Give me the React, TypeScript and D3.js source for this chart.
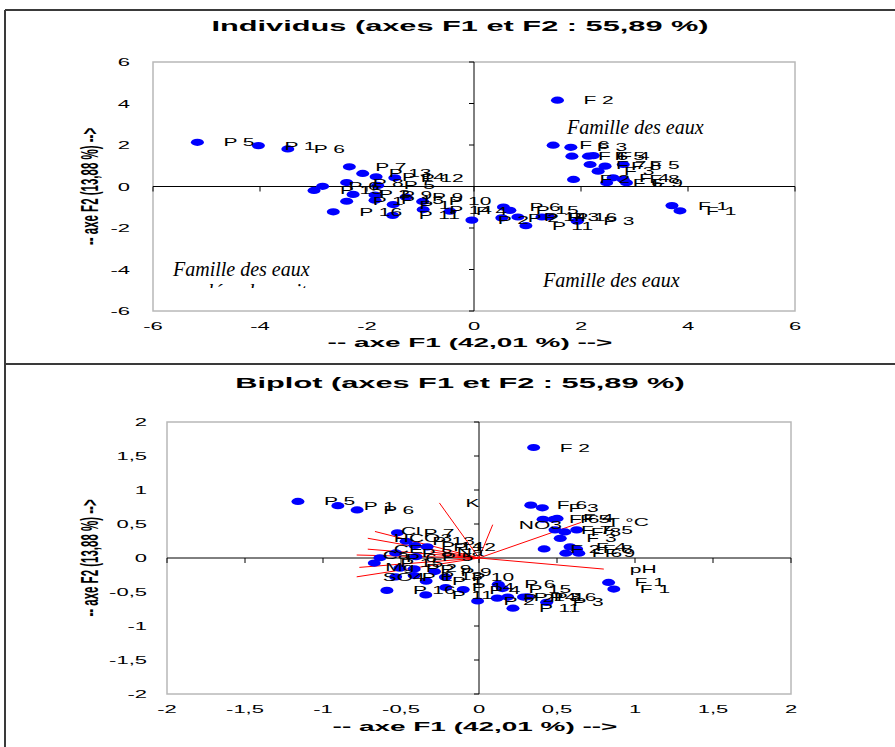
import React from 'react';
import * as d3 from 'd3';

// ---------- DATA ----------
const obsLabels = [
  'P 5', 'P 1', 'P 6', 'P 7', 'P 13', 'P 14', 'P 12', 'P 8', 'P 5', 'P 6', 'P 15', 'P 2',
  'P 9', 'P 1', 'P 13', 'P 9', 'P 1', 'P 10', 'P 16', 'P 11', 'P 14', 'P 4', 'P 2',
  'F 2',
  'F 6', 'F 3', 'F 6', 'F 5', 'F 4', 'F 7', 'F 8', 'F 5', 'F 3', 'F 2', 'F 4', 'F 8', 'F 6', 'F 9',
  'F 1', 'F 1',
  'P 6', 'P 15', 'P 2', 'P 14', 'P 11', 'P 3', 'P 16', 'P 3',
];
const obsF1 = [
  -5.17, -4.03, -3.48, -2.33, -2.08, -1.83, -1.48, -2.38, -1.8, -2.83, -2.99, -2.26,
  -1.85, -2.38, -1.85, -1.27, -1.51, -0.96, -2.63, -1.52, -0.95, -0.45, -0.04,
  1.56,
  1.48, 1.81, 1.83, 2.14, 2.23, 2.17, 2.45, 2.79, 2.32, 1.86, 2.6, 2.79, 2.48, 2.85,
  3.7, 3.85,
  0.55, 0.67, 0.52, 0.82, 0.97, 1.27, 1.39, 1.93,
];
const obsF2 = [
  2.13, 1.97, 1.81, 0.95, 0.63, 0.47, 0.42, 0.19, 0.05, 0.01, -0.19, -0.38,
  -0.41, -0.71, -0.66, -0.51, -0.87, -0.72, -1.22, -1.39, -1.11, -1.19, -1.62,
  4.16,
  1.99, 1.89, 1.46, 1.46, 1.49, 1.06, 0.98, 1.06, 0.74, 0.34, 0.42, 0.34, 0.18, 0.18,
  -0.92, -1.17,
  -0.99, -1.15, -1.51, -1.47, -1.89, -1.47, -1.46, -1.67,
];
const varLabels = ['K', 'NO3', 'T °C', 'pH', 'Cl', 'HCO3', 'CE', 'Ca', 'Mg', 'SO4', 'Na'];
const varF1 = [-0.254, 0.088, 0.654, 0.8, -0.667, -0.713, -0.713, -0.784, -0.767, -0.784, -0.31];
const varF2 = [0.81, 0.49, 0.523, -0.163, 0.39, 0.29, 0.13, 0.044, -0.138, -0.277, 0.09];

const inertiaPct = [42.01, 13.88];
const topTicks = [-6, -4, -2, 0, 2, 4, 6];
const bipTicks = [-2, -1.5, -1, -0.5, 0, 0.5, 1, 1.5, 2];
const titleTop = 'Individus (axes F1 et F2 : 55,89 %)';
const titleBottom = 'Biplot (axes F1 et F2 : 55,89 %)';
const xTitle = '-- axe F1 (42,01 %) -->';
const yTitle = '-- axe F2 (13,88 %) -->';
const familleText = 'Famille des eaux';
const familleSecond = 'salées des puits';

// biplot scaling of observations (per-axis, from eigenvalues)
const BIPLOT_C = 0.1455;
const coef = inertiaPct.map((p) => BIPLOT_C / Math.sqrt(p / 100));

const SANS = 'Liberation Sans, Arial, sans-serif';
const SERIF = 'Liberation Serif, Times New Roman, serif';
const SX = 2; // horizontal stretch of the original chart texts

function SText(props: any) {
  const { x, y, s = SX, anchor = 'start', size = 10.5, weight = 'normal', rotate = 0, children, fill = '#000' } = props;
  const tr = `translate(${x},${y}) scale(${s},1)` + (rotate ? ` rotate(${rotate})` : '');
  return (
    <text transform={tr} textAnchor={anchor} fontSize={size} fontWeight={weight} fontFamily={SANS} fill={fill}>
      {children}
    </text>
  );
}

const fmt = (d: number) => String(d).replace('.', ',');

function Panel(props: any) {
  const { x, y, ticks, f1, f2, tickLabelX, tickLabelY, xTitleY, tickFmt } = props;
  const [x0, x1] = x.range();
  const [y0, y1] = y.range(); // y0 bottom, y1 top
  const cx = x(0);
  const cy = y(0);
  return (
    <g>
      <rect x={x0} y={y1} width={x1 - x0} height={y0 - y1} fill="none" stroke="#b8b8b8" strokeWidth={1.5} />
      <line x1={x0} x2={x1} y1={cy} y2={cy} stroke="#000" strokeWidth={1} />
      <line x1={cx} x2={cx} y1={y1} y2={y0} stroke="#000" strokeWidth={1} />
      {ticks.map((t: number) => (
        <g key={'t' + t}>
          <line x1={x(t)} x2={x(t)} y1={cy} y2={cy + 5} stroke="#000" />
          <line x1={cx - 5} x2={cx} y1={y(t)} y2={y(t)} stroke="#000" />
          <SText x={x(t)} y={tickLabelY} anchor="middle" size={11}>{tickFmt(t)}</SText>
          <SText x={tickLabelX} y={y(t) + 4} anchor="end" size={11}>{tickFmt(t)}</SText>
        </g>
      ))}
      <SText x={cx - 4} y={xTitleY} anchor="middle" size={13} weight="bold" s={2.15}>{xTitle}</SText>
      <SText x={98} y={cy} anchor="middle" size={11.5} weight="bold" rotate={-90}>{yTitle}</SText>
    </g>
  );
}

export default function App() {
  const xT = d3.scaleLinear().domain([-6, 6]).range([153, 795]);
  const yT = d3.scaleLinear().domain([-6, 6]).range([311, 62]);
  const xB = d3.scaleLinear().domain([-2, 2]).range([167, 791]);
  const yB = d3.scaleLinear().domain([-2, 2]).range([694, 422]);

  const top = obsLabels.map((l, i) => ({ l, px: xT(obsF1[i]), py: yT(obsF2[i]) }));
  const bot = obsLabels.map((l, i) => ({ l, px: xB(obsF1[i] * coef[0]), py: yB(obsF2[i] * coef[1]) }));
  const vars = varLabels.map((l, i) => ({ l, px: xB(varF1[i]), py: yB(varF2[i]) }));

  return (
    <svg width={895} height={747} style={{ position: 'absolute', left: 0, top: 0, background: '#fff' }}>
      <defs>
        <clipPath id="clipTop">
          <rect x={153} y={62} width={642} height={249} />
        </clipPath>
        <clipPath id="clipFam">
          <rect x={160} y={200} width={300} height={88} />
        </clipPath>
      </defs>
      <rect x={0} y={0} width={895} height={747} fill="#fff" />
      {/* outer frames */}
      <line x1={5} x2={895} y1={10} y2={10} stroke="#3a3a3a" strokeWidth={2} />
      <line x1={5} x2={5} y1={10} y2={747} stroke="#3a3a3a" strokeWidth={2} />
      <line x1={5} x2={895} y1={364} y2={364} stroke="#3a3a3a" strokeWidth={2} />

      {/* ---------- TOP: Individus ---------- */}
      <SText x={460} y={31} anchor="middle" size={15} weight="bold" s={2.05}>{titleTop}</SText>
      <Panel x={xT} y={yT} ticks={topTicks} tickLabelX={130} tickLabelY={330} xTitleY={347} tickFmt={fmt} />
      <g clipPath="url(#clipTop)">
        {top.map((d, i) => (
          <ellipse key={'tp' + i} cx={d.px} cy={d.py} rx={6.5} ry={3.6} fill="#0000ff" />
        ))}
        {top.map((d, i) => (
          <SText key={'tl' + i} x={d.px + 26} y={d.py + 4}>{d.l}</SText>
        ))}
      </g>
      <text x={567} y={134} fontFamily={SERIF} fontStyle="italic" fontSize={20}>{familleText}</text>
      <text x={543} y={287} fontFamily={SERIF} fontStyle="italic" fontSize={20}>{familleText}</text>
      <text x={173} y={276} fontFamily={SERIF} fontStyle="italic" fontSize={20}>{familleText}</text>
      <g clipPath="url(#clipFam)">
        <text x={190} y={298} fontFamily={SERIF} fontStyle="italic" fontSize={20}>{familleSecond}</text>
      </g>

      {/* ---------- BOTTOM: Biplot ---------- */}
      <SText x={460} y={388} anchor="middle" size={15} weight="bold" s={2.05}>{titleBottom}</SText>
      <Panel x={xB} y={yB} ticks={bipTicks} tickLabelX={147} tickLabelY={713} xTitleY={731} tickFmt={fmt} />
      {vars.map((d, i) => (
        <line key={'vl' + i} x1={xB(0)} y1={yB(0)} x2={d.px} y2={d.py} stroke="#ff0000" strokeWidth={1} />
      ))}
      {bot.map((d, i) => (
        <ellipse key={'bp' + i} cx={d.px} cy={d.py} rx={6.5} ry={3.6} fill="#0000ff" />
      ))}
      {bot.map((d, i) => (
        <SText key={'bl' + i} x={d.px + 26} y={d.py + 4}>{d.l}</SText>
      ))}
      {vars.map((d, i) => (
        <SText key={'vt' + i} x={d.px + 26} y={d.py + 4}>{d.l}</SText>
      ))}
    </svg>
  );
}
